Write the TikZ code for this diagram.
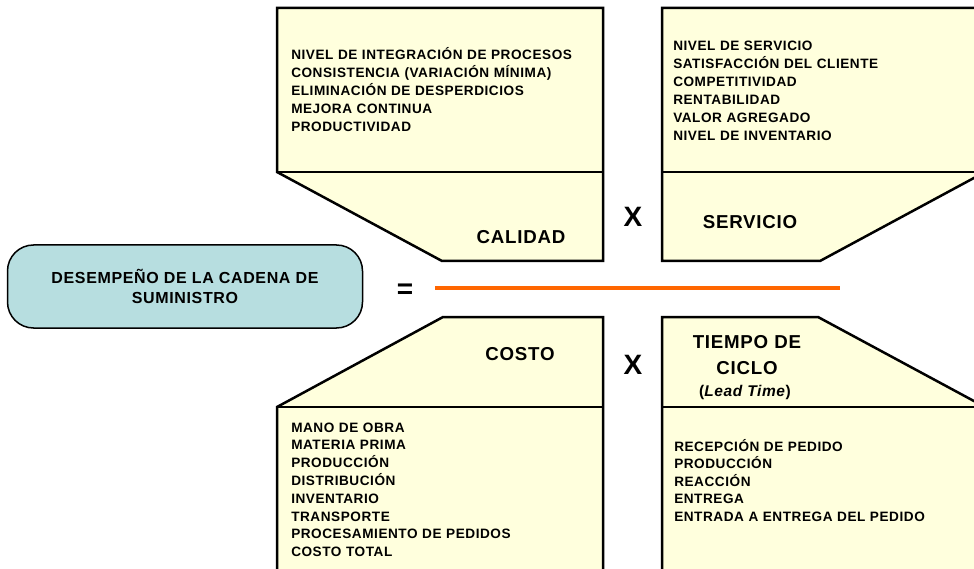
\documentclass[tikz,border=0pt]{standalone}
\usepackage{fontspec}
\setmainfont{Liberation Sans}[LetterSpace=4]
\usetikzlibrary{positioning}
\definecolor{boxyellow}{RGB}{255,255,221}
\definecolor{boxcyan}{RGB}{183,222,224}
\definecolor{barorange}{RGB}{255,102,0}

\begin{document}
\begin{tikzpicture}[x=1pt, y=-1pt, line width=2.5pt, line join=miter,
                    every node/.style={inner sep=0pt, font=\bfseries},
                    panel/.style={draw, fill=boxyellow},
                    items/.style={anchor=base west, text width=300pt, align=left, font=\fontsize{13.6}{18}\selectfont\bfseries},
                    heading/.style={anchor=base, text width=160pt, align=center, font=\fontsize{18.7}{26}\selectfont\bfseries},
                    times/.style={font=\fontsize{28}{28}\selectfont\bfseries}]
                    \useasboundingbox (0,0) rectangle (974,569);
                    \begin{scope}
                    \clip (0,0) rectangle (974,569);
                    % upper panels
                    \draw[panel] (277,8) -- (603,8) -- (603,261) -- (442,261) -- (277,172) -- cycle;
                    \draw (277,172) -- (603,172);
                    \draw[panel] (662,8) -- (985,8) -- (985,172) -- (820,261) -- (662,261) -- cycle;
                    \draw (662,172) -- (985,172);
                    % lower panels
                    \draw[panel] (443,317) -- (603,317) -- (603,585) -- (277,585) -- (277,407) -- cycle;
                    \draw (277,407) -- (603,407);
                    \draw[panel] (662,317) -- (818,317) -- (985,407) -- (985,585) -- (662,585) -- cycle;
                    \draw (662,407) -- (985,407);
                    \end{scope}
                    \node[items] (calItems) at (290,60) {NIVEL DE INTEGRACIÓN DE PROCESOS\\CONSISTENCIA (VARIACIÓN MÍNIMA)\\ELIMINACIÓN DE DESPERDICIOS\\MEJORA CONTINUA\\PRODUCTIVIDAD};
                    \node[items] (serItems) at (672,51) {NIVEL DE SERVICIO\\SATISFACCIÓN DEL CLIENTE\\COMPETITIVIDAD\\RENTABILIDAD\\VALOR AGREGADO\\NIVEL DE INVENTARIO};
                    \node[items, font=\fontsize{13.6}{17.8}\selectfont\bfseries] (cosItems) at (290,432) {MANO DE OBRA\\MATERIA PRIMA\\PRODUCCIÓN\\DISTRIBUCIÓN\\INVENTARIO\\TRANSPORTE\\PROCESAMIENTO DE PEDIDOS\\COSTO TOTAL};
                    \node[items, font=\fontsize{13.6}{17.5}\selectfont\bfseries] (tieItems) at (673,451) {RECEPCIÓN DE PEDIDO\\PRODUCCIÓN\\REACCIÓN\\ENTREGA\\ENTRADA A ENTREGA DEL PEDIDO};
                    \node[heading] (calidad) at (521,244) {CALIDAD};
                    \node[heading] (servicio) at (750,229) {SERVICIO};
                    \node[heading] (costo) at (520,360) {COSTO};
                    \node[heading] (tiempo) at (747,348) {TIEMPO DE\\CICLO};
                    \node[anchor=base, font=\fontsize{15.5}{15.5}\selectfont\bfseries] (lead) at (745,396) {(\textit{Lead Time})};
                    \node[times] (xTop) at (633,217) {X};
                    \node[times] (xBot) at (633,365) {X};
                    % left side of the equation
                    \node[draw, fill=boxcyan, line width=1.5pt, rounded corners=26pt, minimum width=355pt, minimum height=83pt,
                          align=center, font=\fontsize{16}{19.5}\selectfont\bfseries] (perf) at (185,286.5) {DESEMPEÑO DE LA CADENA DE\\SUMINISTRO};
                    \node[times] (eq) at (405,291) {=};
                    \coordinate (barL) at (435,288);
                    \coordinate (barR) at (840,288);
                    \draw[barorange, line width=3.5pt] (barL) -- (barR);
                \end{tikzpicture}
\end{document}
